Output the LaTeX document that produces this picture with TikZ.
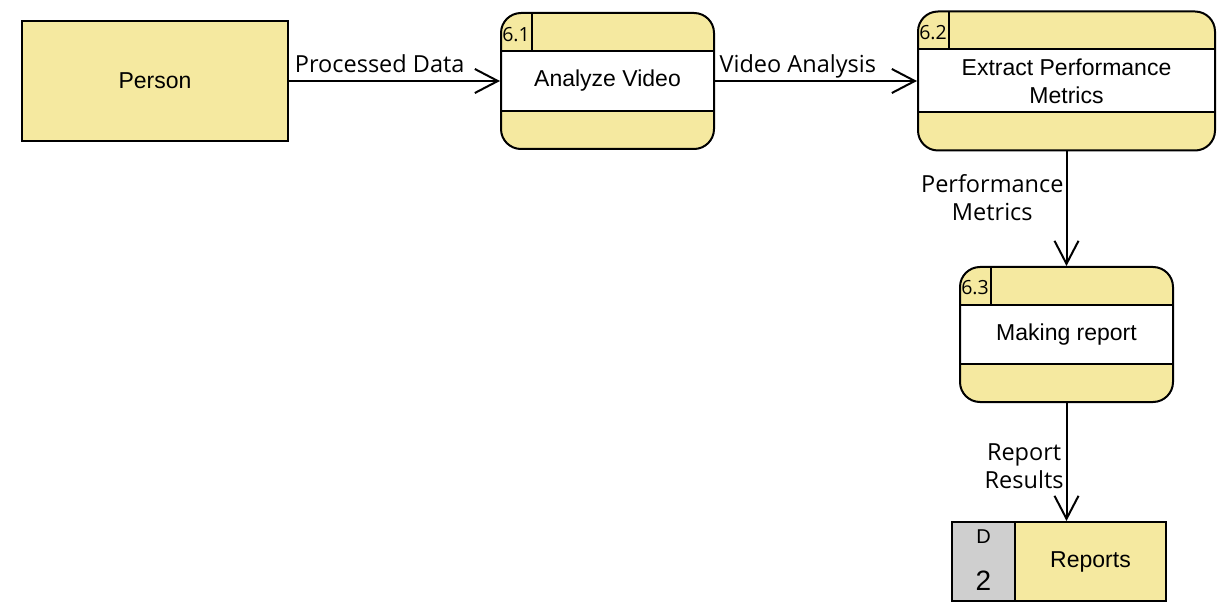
\documentclass[tikz,border=0pt]{standalone}
\usepackage{fontspec}
\setmainfont{Liberation Sans}
\newfontfamily\flowfont{Open Sans}
\usepackage{xcolor}
\usetikzlibrary{arrows.meta,positioning}
\definecolor{dfdyellow}{RGB}{245,233,160}
\definecolor{dfdgrey}{RGB}{207,207,207}

\begin{document}
\begin{tikzpicture}[x=1pt,y=-1pt,line width=2pt,
    >={Straight Barb[length=23pt,width=24pt]},
    every node/.style={font=\fontsize{23pt}{28pt}\selectfont},
    entity/.style={draw,fill=dfdyellow,minimum width=266pt,minimum height=120pt},
    proc/.style 2 args={draw,fill=dfdyellow,rounded corners=20pt,align=center,
      inner sep=0pt,minimum width=#1pt,minimum height=#2pt,
      path picture={
        \fill[white,sharp corners] ([yshift=-38]path picture bounding box.north west)
          rectangle ([yshift=38]path picture bounding box.south east);
        \draw[sharp corners] ([yshift=-38]path picture bounding box.north west)
          -- ([yshift=-38]path picture bounding box.north east);
        \draw[sharp corners] ([yshift=38]path picture bounding box.south west)
          -- ([yshift=38]path picture bounding box.south east);
        \draw[sharp corners] ([xshift=31]path picture bounding box.north west)
          -- ([xshift=31,yshift=-38]path picture bounding box.north west);
      }},
    store/.style={draw,fill=dfdyellow,minimum width=214pt,minimum height=79pt,
      path picture={
        \fill[dfdgrey] (path picture bounding box.north west)
          rectangle ([xshift=63]path picture bounding box.south west);
        \draw ([xshift=63]path picture bounding box.north west)
          -- ([xshift=63]path picture bounding box.south west);
      }},
    procnum/.style={font=\flowfont\fontsize{19.5pt}{22pt}\selectfont,inner sep=0pt},
    flow/.style={font=\flowfont\fontsize{23.5pt}{27.5pt}\selectfont,align=center,
      inner sep=2pt,text height=17pt,text depth=5pt}]

    \useasboundingbox (0,0) rectangle (1226,612);

    % external entity and processes
    \node[entity]            (person) at (155,81)     {Person};
    \node[proc={213}{136}]   (p1)     at (607.5,81)   {Analyze Video};
    \node[proc={297}{139}]   (p2)     at (1066.5,81)  {Extract Performance\\Metrics};
    \node[proc={213}{135}]   (p3)     at (1066.5,334.5) {Making report};
    \node[store]             (st)     at (1059,561.5) {};

    \node[procnum] (p1-num) at ([xshift=16,yshift=-23]p1.north west) {6.1};
    \node[procnum] (p2-num) at ([xshift=16,yshift=-22]p2.north west) {6.2};
    \node[procnum] (p3-num) at ([xshift=16,yshift=-22]p3.north west) {6.3};

    % data store
    \node[font=\fontsize{20pt}{22pt}\selectfont] (st-id)   at (983.5,537) {D};
    \node[font=\fontsize{28pt}{30pt}\selectfont] (st-num)  at (983.5,581) {2};
    \node                                       (st-name) at (1090.5,562) {Reports};

    \path[->]
    (person) edge node[flow,above,pos=0.43] {Processed Data} (p1)
    (p1)     edge node[flow,above,pos=0.41] {Video Analysis} (p2)
    (p2)     edge node[flow,left,pos=0.55]  {Performance\\Metrics} (p3)
    (p3)     edge node[flow,left,pos=0.67]  {Report\\Results} (p3.south |- st.north);

\end{tikzpicture}
\end{document}
